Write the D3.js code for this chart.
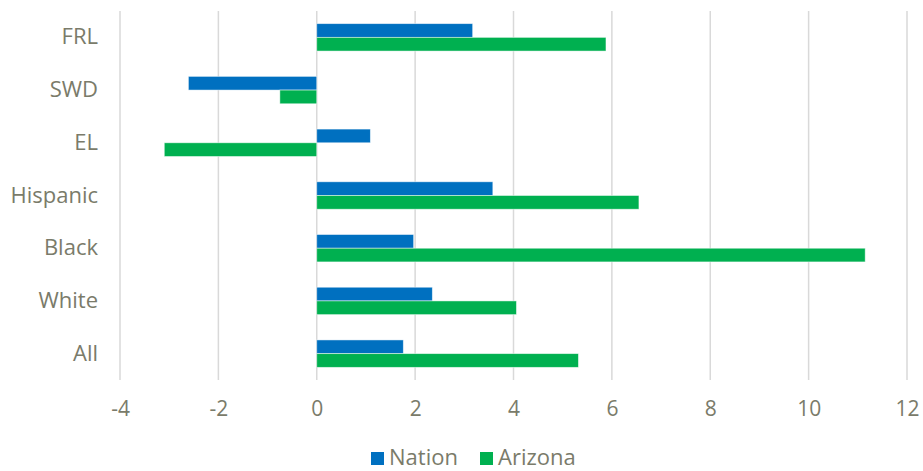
<html>
<head>
<meta charset="utf-8">
<style>
body
{
  margin:0;
  background:#fff;
}
text
{
  font-family:"Open Sans", sans-serif;
  fill:#7a7b6a;
}
</style>
<script src="https://cdnjs.cloudflare.com/ajax/libs/d3/7.8.5/d3.min.js"></script>
</head>
<body>
<script>
// data
var categories = ["FRL", "SWD", "EL", "Hispanic", "Black", "White", "All"];
var nation = [3.17, -2.61, 1.09, 3.58, 1.97, 2.35, 1.76];
var arizona = [5.88, -0.75, -3.10, 6.55, 11.15, 4.06, 5.32];
var tickValues = [-4, -2, 0, 2, 4, 6, 8, 10, 12];
var seriesNames = ["Nation", "Arizona"];
var seriesColors = ["#0070c0", "#00b050"];

var w = 923, h = 471;

var svg = d3.select("body")
  .append("svg")
  .attr("width", w)
  .attr("height", h);

var x = d3.scaleLinear().domain([-4, 12]).range([120, 907]);

var y = d3.scaleBand()
  .domain(categories)
  .range([11, 380])
  .paddingInner(0.48)
  .paddingOuter(0.24);

var sub = d3.scaleBand()
  .domain(seriesNames)
  .range([0, y.bandwidth()]);

// gridlines
svg.append("g")
  .selectAll("line")
  .data(tickValues)
  .enter().append("line")
  .attr("x1", function(d){ return x(d); })
  .attr("x2", function(d){ return x(d); })
  .attr("y1", 11)
  .attr("y2", 380)
  .style("stroke", "#d9d9d9")
  .style("stroke-width", 1.5);

// x axis labels (plain hyphen for negatives, like the original)
var xAxis = d3.axisBottom(x)
  .tickValues(tickValues)
  .tickFormat(function(d){ return String(d); })
  .tickSize(0)
  .tickPadding(0);
var gx = svg.append("g")
  .attr("transform", "translate(0,401)")
  .call(xAxis);
gx.select(".domain").remove();
gx.selectAll("text")
  .style("font-size", "21px")
  .style("fill", "#7a7b6a")
  .style("font-family", "'Open Sans', sans-serif");

// y axis labels
var yAxis = d3.axisLeft(y).tickSize(0).tickPadding(0);
var gy = svg.append("g")
  .attr("transform", "translate(98,0)")
  .call(yAxis);
gy.select(".domain").remove();
gy.selectAll("text")
  .style("font-size", "22px")
  .style("fill", "#7a7b6a")
  .style("font-family", "'Open Sans', sans-serif");

// bars
var rows = categories.map(function(c, i){
  return {cat: c, vals: [nation[i], arizona[i]]};
});

var groups = svg.append("g")
  .selectAll("g")
  .data(rows)
  .enter().append("g")
  .attr("transform", function(d){ return "translate(0," + y(d.cat) + ")"; });

groups.selectAll("rect")
  .data(function(d){
    return d.vals.map(function(v, j){ return {name: seriesNames[j], v: v, color: seriesColors[j]}; });
  })
  .enter().append("rect")
  .attr("x", function(d){ return x(Math.min(0, d.v)); })
  .attr("y", function(d){ return sub(d.name); })
  .attr("width", function(d){ return Math.abs(x(d.v) - x(0)); })
  .attr("height", sub.bandwidth())
  .style("fill", function(d){ return d.color; })
  .style("stroke", "rgba(255,255,255,0.6)")
  .style("stroke-width", 0.8);

// legend
var legendX = [371, 480];
var legend = svg.append("g")
  .selectAll("g")
  .data(seriesNames)
  .enter().append("g")
  .attr("transform", function(d, i){ return "translate(" + legendX[i] + ",452)"; });

legend.append("rect")
  .attr("width", 13)
  .attr("height", 13)
  .style("fill", function(d, i){ return seriesColors[i]; });

legend.append("text")
  .attr("x", 18)
  .attr("y", 13)
  .style("font-size", "22px")
  .text(function(d){ return d; });
</script>
</body>
</html>
